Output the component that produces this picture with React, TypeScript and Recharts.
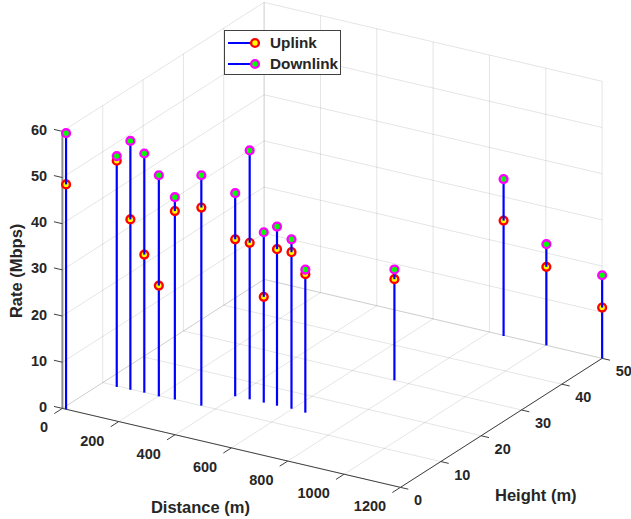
import React from 'react';
import { ScatterChart, Scatter, XAxis, YAxis, ReferenceLine, Legend } from 'recharts';

const distance = [13, 54, 101, 149, 202, 256, 350, 400, 450, 500, 547, 597, 649, 749, 853, 1002, 1200];
const height = [0, 9.7, 9.8, 9.9, 9.8, 10, 10, 14.9, 15, 15, 15, 15.1, 14.9, 30, 49.8, 50, 50];
const uplink = [48.7, 49, 36.9, 29.9, 24, 40.8, 42.9, 34, 33.9, 22.9, 33.9, 33.9, 30, 21.9, 25, 17, 11];
const downlink = [59.8, 50, 53.9, 51.8, 47.9, 43.8, 49.9, 44, 53.9, 36.9, 38.8, 36.7, 31, 24, 34, 21.9, 18];

const distanceTicks = [0, 200, 400, 600, 800, 1000, 1200];
const heightTicks = [0, 10, 20, 30, 40, 50];
const rateTicks = [0, 10, 20, 30, 40, 50, 60];

const W = 631;
const H = 519;
const DMAX = 1200;
const HMAX = 50;
const ZMAX = 60;

// orthographic view of the matlab axes box, onto the flat chart plane
const project = (d: number, h: number, z: number) => ({
  px: 62.4 + d * 0.2817 + h * 4.034,
  py: 408.4 + d * 0.0658 - h * 2.58 - z * 4.617,
});

const tickFont = { fontFamily: '"Liberation Sans", Arial, sans-serif', fontWeight: 700, fill: '#262626' };

const NoMark = () => null;

const TextMark = (props: any) => {
  const { cx, cy, payload } = props;
  return (
    <text
      x={cx + payload.dx}
      y={cy + payload.dy}
      textAnchor={payload.anchor}
      dominantBaseline="central"
      fontSize={payload.size}
      transform={payload.rotate ? `rotate(${payload.rotate} ${cx + payload.dx} ${cy + payload.dy})` : undefined}
      {...tickFont}
    >
      {payload.label}
    </text>
  );
};

const Dot = (fill: string, stroke: string) => (props: any) =>
  <circle cx={props.cx} cy={props.cy} r={3.9} fill={fill} stroke={stroke} strokeWidth={2.4} />;

const gridLines = [
  // floor
  ...distanceTicks.map((d) => [project(d, 0, 0), project(d, HMAX, 0)]),
  ...heightTicks.map((h) => [project(0, h, 0), project(DMAX, h, 0)]),
  // left wall
  ...heightTicks.map((h) => [project(0, h, 0), project(0, h, ZMAX)]),
  ...rateTicks.map((z) => [project(0, 0, z), project(0, HMAX, z)]),
  // back wall
  ...distanceTicks.map((d) => [project(d, HMAX, 0), project(d, HMAX, ZMAX)]),
  ...rateTicks.map((z) => [project(0, HMAX, z), project(DMAX, HMAX, z)]),
];

const axisLines = [
  [project(0, 0, 0), project(DMAX, 0, 0)],
  [project(DMAX, 0, 0), project(DMAX, HMAX, 0)],
  ...distanceTicks.map((d) => [project(d, 0, 0), project(d, -2, 0)]),
  ...heightTicks.map((h) => [project(DMAX, h, 0), project(DMAX + 28, h, 0)]),
  ...rateTicks.map((z) => [project(0, 0, z), project(-30, 0, z)]),
];

const tickLabels = [
  ...rateTicks.map((z) => ({ ...project(0, 0, z), dx: -15.3, dy: -1.5, anchor: 'end', size: 14.5, label: `${z}` })),
  ...distanceTicks.map((d) => ({ ...project(d, 0, 0), dx: -14.3, dy: 19, anchor: 'end', size: 14.5, label: `${d}` })),
  ...heightTicks.map((h) => ({ ...project(DMAX, h, 0), dx: 13.5, dy: 13, anchor: 'start', size: 14.5, label: `${h}` })),
];

const axisTitles = [
  { ...project(0, 0, 30), dx: -46, dy: 1, anchor: 'middle', size: 16.5, rotate: -90, label: 'Rate (Mbps)' },
  { ...project(DMAX / 2, 0, 0), dx: -31, dy: 59, anchor: 'middle', size: 16.5, label: 'Distance (m)' },
  { ...project(DMAX, HMAX / 5, 0), dx: 95, dy: 33, anchor: 'middle', size: 16.5, label: 'Height (m)' },
];

const LegendBox = () => {
  const row = (label: string, fill: string, stroke: string) => (
    <div key={label} style={{ display: 'flex', alignItems: 'center', height: 21 }}>
      <svg width={33} height={12} style={{ marginLeft: 3 }}>
        <line x1={0} y1={6} x2={27} y2={6} stroke="#0000ff" strokeWidth={2} />
        <circle cx={27} cy={6} r={3.9} fill={fill} stroke={stroke} strokeWidth={2.4} />
      </svg>
      <span style={{ marginLeft: 9, fontSize: 15.3, fontWeight: 700, color: '#262626', fontFamily: tickFont.fontFamily }}>{label}</span>
    </div>
  );
  return (
    <div style={{ width: 115, height: 42, boxSizing: 'content-box', border: '1px solid #404040', background: '#fff', paddingTop: 1 }}>
      {row('Uplink', '#ffff00', '#ff0000')}
      {row('Downlink', '#00ff00', '#ff00ff')}
    </div>
  );
};

const App = () => {
  return (
    <div style={{ position: 'absolute', left: 0, top: 0, width: W, height: H, overflow: 'hidden', background: '#fff' }}>
      <ScatterChart width={W} height={H} margin={{ top: 0, right: 0, bottom: 0, left: 0 }}>
        <XAxis type="number" dataKey="px" domain={[0, W]} hide />
        <YAxis type="number" dataKey="py" domain={[0, H]} reversed hide />
        {gridLines.map(([a, b], i) => (
          <ReferenceLine key={`g${i}`} segment={[{ x: a.px, y: a.py }, { x: b.px, y: b.py }]} stroke="#262626" strokeOpacity={0.12} strokeWidth={1} />
        ))}
        <ReferenceLine segment={[{ x: project(0, 0, 0).px, y: project(0, 0, 0).py }, { x: project(0, 0, ZMAX).px, y: project(0, 0, ZMAX).py }]} stroke="#8c8c8c" strokeWidth={2} />
        {axisLines.map(([a, b], i) => (
          <ReferenceLine key={`a${i}`} segment={[{ x: a.px, y: a.py }, { x: b.px, y: b.py }]} stroke="#404040" strokeWidth={1} />
        ))}
        {distance.map((d, i) => (
          <Scatter
            key={`u${i}`}
            data={[project(d, height[i], 0), project(d, height[i], uplink[i])]}
            line={{ stroke: '#0000ff', strokeWidth: 2.2 }}
            shape={NoMark}
            isAnimationActive={false}
          />
        ))}
        <Scatter
          name="Uplink"
          data={distance.map((d, i) => project(d, height[i], uplink[i]))}
          shape={Dot('#ffff00', '#ff0000')}
          isAnimationActive={false}
        />
        {distance.map((d, i) => (
          <Scatter
            key={`d${i}`}
            data={[project(d, height[i], uplink[i]), project(d, height[i], downlink[i])]}
            line={{ stroke: '#0000ff', strokeWidth: 2.2 }}
            shape={NoMark}
            isAnimationActive={false}
          />
        ))}
        <Scatter
          name="Downlink"
          data={distance.map((d, i) => project(d, height[i], downlink[i]))}
          shape={Dot('#00ff00', '#ff00ff')}
          isAnimationActive={false}
        />
        <Scatter data={tickLabels} shape={TextMark} isAnimationActive={false} />
        <Scatter data={axisTitles} shape={TextMark} isAnimationActive={false} />
        <Legend
          layout="vertical"
          align="center"
          verticalAlign="middle"
          content={<LegendBox />}
          wrapperStyle={{ left: 224, top: 30, width: 117, height: 44 }}
        />
      </ScatterChart>
    </div>
  );
};

export default App;
